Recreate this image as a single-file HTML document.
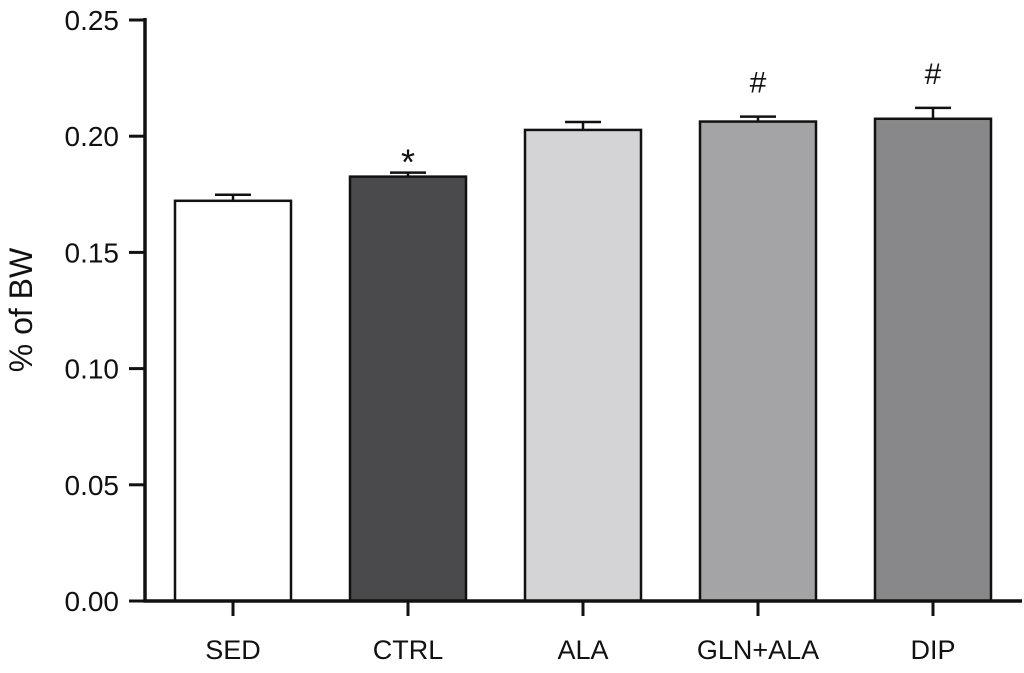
<!DOCTYPE html>
<html><head><meta charset="utf-8"><style>
html,body{margin:0;padding:0;background:#fff;}
svg{display:block;font-family:"Liberation Sans",Arial,sans-serif;}
</style></head><body>
<svg id="chart" width="1024" height="673" viewBox="0 0 1024 673"></svg>
<script>
const categories=["SED","CTRL","ALA","GLN+ALA","DIP"];
const values=[0.1722,0.1826,0.2027,0.2063,0.2075];
const errors=[0.0026,0.0017,0.0034,0.0021,0.0047];
const marks=["","*","","#","#"];
const colors=["#ffffff","#4a4a4c","#d4d4d6","#a4a4a7","#88888b"];
const yTicks=[0,0.05,0.10,0.15,0.20,0.25];
const yTickLabels=["0.00","0.05","0.10","0.15","0.20","0.25"];
const NS="http://www.w3.org/2000/svg";
const svg=document.getElementById('chart');
const x0=145,y0=601,yTop=20,step=175,bw=116;
function y(v){return y0-(v/0.25)*(y0-yTop);}
function xc(i){return 233+i*step;}
function mk(t,a,p){const e=document.createElementNS(NS,t);for(const k in a)e.setAttribute(k,a[k]);(p||svg).appendChild(e);return e;}
categories.forEach((c,i)=>{
 const cx=xc(i),v=values[i],top=y(v),et=y(v+errors[i]);
 const b=mk('rect',{x:cx-bw/2,y:top,width:bw,height:y0-top,fill:colors[i],stroke:'#111',"stroke-width":2.5});
 
 
 const e1=mk('line',{x1:cx,x2:cx,y1:top,y2:et,stroke:'#111',"stroke-width":2.5});
 
 
 const e2=mk('line',{x1:cx-18,x2:cx+18,y1:et,y2:et,stroke:'#111',"stroke-width":2.5});
 
 
 if(marks[i]){const star=marks[i]==='*';
  const m=mk('text',{x:cx,y:star?et+2:et-24,"text-anchor":"middle","font-size":star?36:30,fill:'#111'});m.textContent=marks[i];
  
  }
 const t=mk('line',{x1:cx,x2:cx,y1:y0,y2:y0+15,stroke:'#111',"stroke-width":3});
 
 
 const l=mk('text',{x:cx,y:659,"text-anchor":"middle","font-size":27,fill:'#111'});l.textContent=c;
 
 
});
yTicks.forEach((v,i)=>{
 const t=mk('line',{x1:129,x2:x0,y1:y(v),y2:y(v),stroke:'#111',"stroke-width":3});
 
 
 const l=mk('text',{x:119,y:y(v)+10,"text-anchor":"end","font-size":28,fill:'#111'});l.textContent=yTickLabels[i];
 
 
});
const ya=mk('line',{x1:x0,x2:x0,y1:yTop-2,y2:y0+1.5,stroke:'#111',"stroke-width":3.5});


const xa=mk('line',{x1:x0-1.5,x2:1022,y1:y0,y2:y0,stroke:'#111',"stroke-width":3.5});


const yt=mk('text',{x:0,y:0,transform:'translate(32,310) rotate(-90)',"text-anchor":"middle","font-size":32,fill:'#111'});yt.textContent='% of BW';


</script>
</body></html>
